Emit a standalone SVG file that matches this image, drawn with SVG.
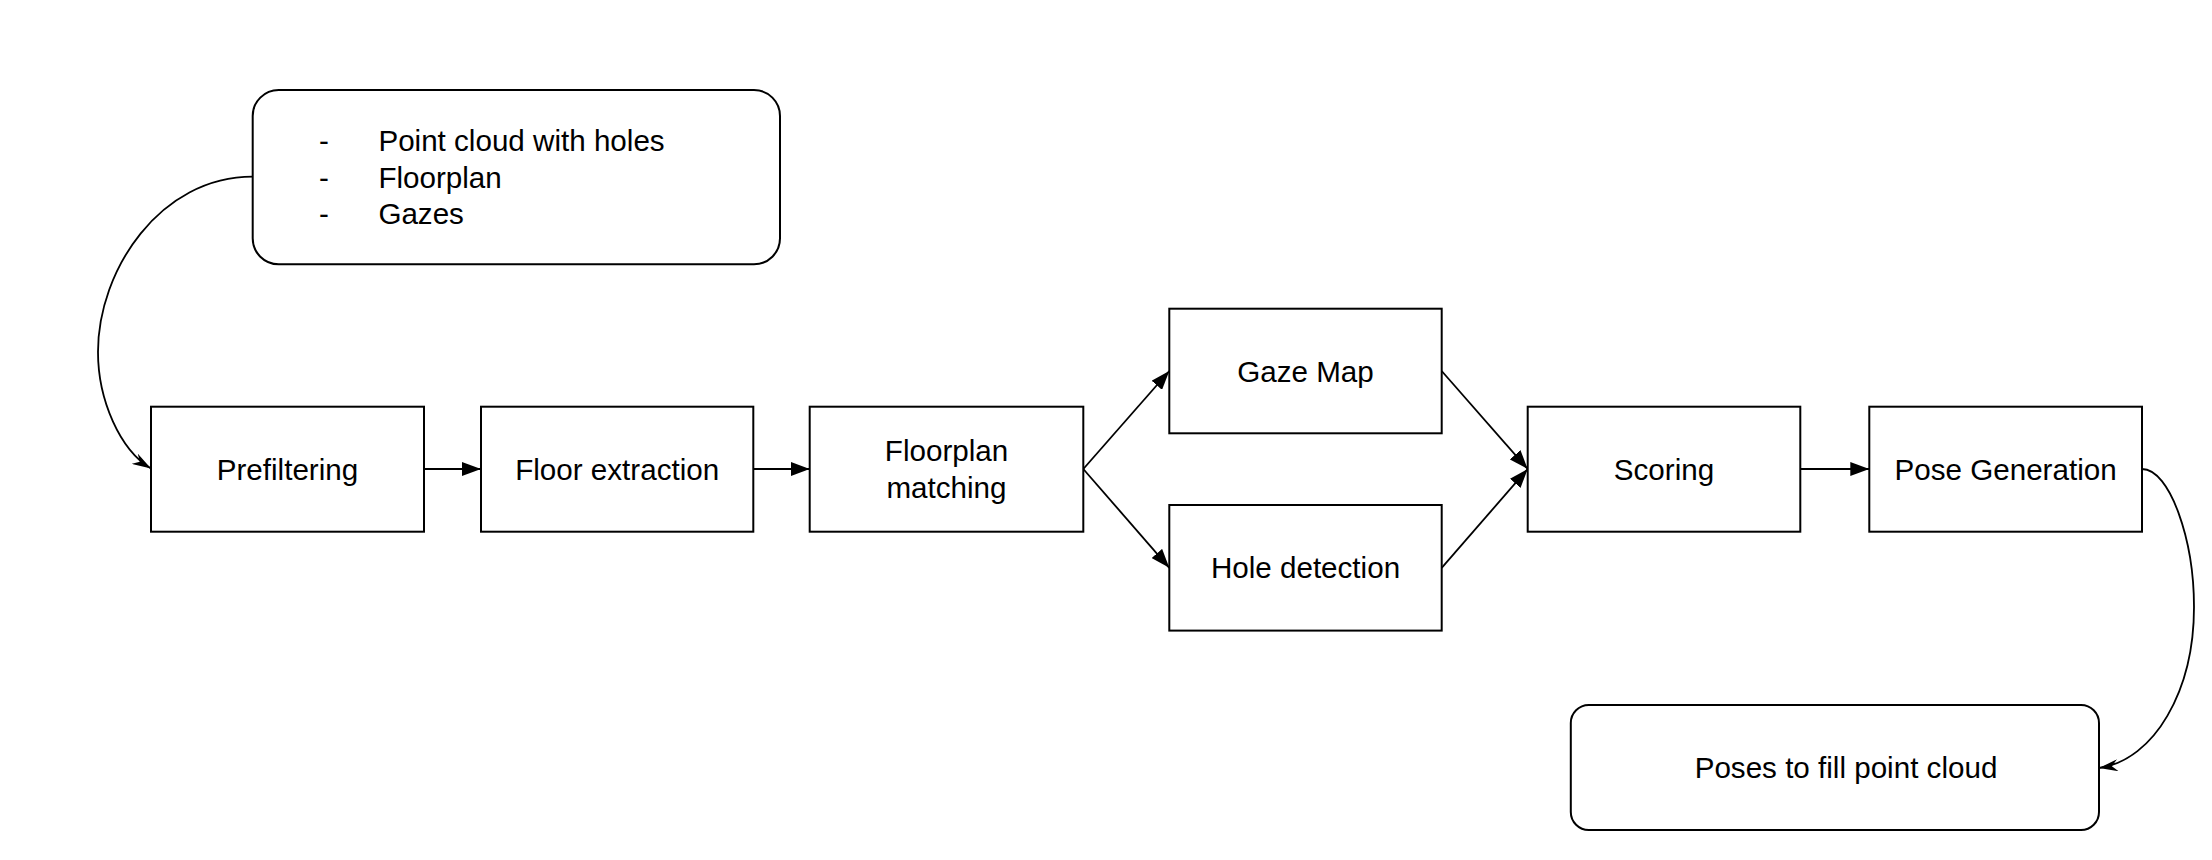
<svg xmlns="http://www.w3.org/2000/svg" width="2212" height="860" viewBox="0 0 2212 860">
<defs>
<style>
.box{fill:#ffffff;stroke:#000000;stroke-width:2}
.lbl{font-family:"Liberation Sans",Arial,sans-serif;font-size:29.6px;fill:#000000;text-anchor:middle}
.lft{font-family:"Liberation Sans",Arial,sans-serif;font-size:29.6px;fill:#000000}
.edge{fill:none;stroke:#000000;stroke-width:1.8}
</style>
<marker id="block" markerUnits="userSpaceOnUse" markerWidth="20" markerHeight="14" refX="19" refY="7" orient="auto">
<path d="M0,0 L19,7 L0,14 z" fill="#000000"/>
</marker>
<marker id="thin" markerUnits="userSpaceOnUse" markerWidth="20" markerHeight="12" refX="19" refY="6" orient="auto">
<path d="M0,0 L19,6 L0,12 L6,6 z" fill="#000000"/>
</marker>
</defs>
<rect width="2212" height="860" fill="#ffffff"/>
<g id="connectors">
<path class="edge" d="M252.7,176.7 C160,176.7 98,270 98,352 C98,400 120,450 151,468.5" marker-end="url(#thin)"/>
<line class="edge" x1="424" y1="469" x2="481" y2="469" marker-end="url(#block)"/>
<line class="edge" x1="753.3" y1="469" x2="809.7" y2="469" marker-end="url(#block)"/>
<line class="edge" x1="1083.3" y1="469" x2="1169.3" y2="371" marker-end="url(#block)"/>
<line class="edge" x1="1083.3" y1="469" x2="1169.3" y2="567.8" marker-end="url(#block)"/>
<line class="edge" x1="1441.7" y1="371" x2="1527.7" y2="469" marker-end="url(#block)"/>
<line class="edge" x1="1441.7" y1="567.8" x2="1527.7" y2="469" marker-end="url(#block)"/>
<line class="edge" x1="1800.3" y1="469" x2="1869.3" y2="469" marker-end="url(#block)"/>
<path class="edge" d="M2142,469 C2170,469 2194,540 2194,607 C2194,690 2155,760 2099,768" marker-end="url(#thin)"/>
</g>
<g id="inputs">
<rect class="box" x="252.7" y="90" width="527.3" height="174.3" rx="26" ry="26"/>
<text class="lft" x="319" y="151">-</text>
<text class="lft" x="378.4" y="151">Point cloud with holes</text>
<text class="lft" x="319" y="187.5">-</text>
<text class="lft" x="378.4" y="187.5">Floorplan</text>
<text class="lft" x="319" y="224">-</text>
<text class="lft" x="378.4" y="224">Gazes</text>
</g>
<g id="prefiltering">
<rect class="box" x="151" y="406.7" width="273" height="125"/>
<text class="lbl" x="287.5" y="479.5">Prefiltering</text>
</g>
<g id="floor-extraction">
<rect class="box" x="481" y="406.7" width="272.3" height="125"/>
<text class="lbl" x="617.2" y="479.5">Floor extraction</text>
</g>
<g id="floorplan-matching">
<rect class="box" x="809.7" y="406.7" width="273.6" height="125"/>
<text class="lbl" x="946.5" y="461">Floorplan</text>
<text class="lbl" x="946.5" y="497.5">matching</text>
</g>
<g id="gaze-map">
<rect class="box" x="1169.3" y="308.7" width="272.4" height="124.6"/>
<text class="lbl" x="1305.5" y="381.5">Gaze Map</text>
</g>
<g id="hole-detection">
<rect class="box" x="1169.3" y="505" width="272.4" height="125.6"/>
<text class="lbl" x="1305.5" y="578.3">Hole detection</text>
</g>
<g id="scoring">
<rect class="box" x="1527.7" y="406.7" width="272.6" height="125"/>
<text class="lbl" x="1664" y="479.5">Scoring</text>
</g>
<g id="pose-generation">
<rect class="box" x="1869.3" y="406.7" width="272.7" height="125"/>
<text class="lbl" x="2005.6" y="479.5">Pose Generation</text>
</g>
<g id="output">
<rect class="box" x="1570.8" y="705" width="528.2" height="125" rx="18" ry="18"/>
<text class="lbl" x="1846" y="778">Poses to fill point cloud</text>
</g>
</svg>
